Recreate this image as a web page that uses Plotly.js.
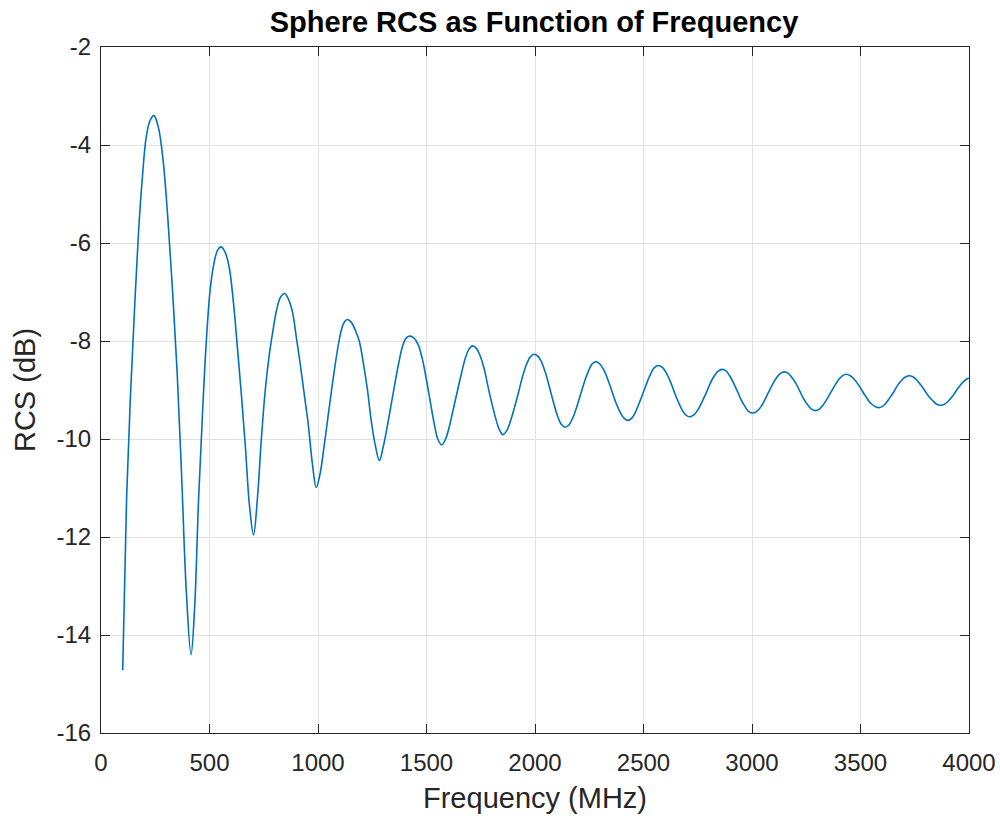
<!DOCTYPE html>
<html>
<head>
<meta charset="utf-8">
<script src="https://cdn.plot.ly/plotly-3.0.1.min.js"></script>
<style>html,body{margin:0;padding:0;background:#fff;}#chart{width:1000px;height:819px;}</style>
</head>
<body>
<div id="chart"></div>
<script>
// Frequency (MHz) and sphere RCS (dB)
const freqMHz = [
  100, 118, 136, 154, 172, 190, 208, 226, 244,
  265, 287, 308, 330, 351, 372, 393, 415,
  432, 449, 467, 484, 502, 519, 537, 554,
  573, 591, 610, 628, 647, 666, 684, 703,
  721, 739, 757, 775, 792, 810, 828, 846,
  864, 882, 901, 919, 937, 955, 974, 992,
  1010, 1028, 1046, 1064, 1082, 1099, 1117, 1135,
  1154, 1172, 1190, 1209, 1228, 1246, 1265, 1283,
  1301, 1319, 1337, 1355, 1372, 1390, 1408, 1426,
  1444, 1462, 1480, 1498, 1516, 1534, 1552, 1570,
  1588, 1605, 1623, 1641, 1659, 1677, 1694, 1712,
  1730, 1747, 1765, 1782, 1800, 1817, 1835, 1852,
  1870, 1888, 1906, 1924, 1941, 1959, 1977, 1995,
  2013, 2031, 2049, 2067, 2085, 2103, 2121, 2139,
  2157, 2175, 2192, 2210, 2228, 2246, 2263, 2281,
  2299, 2318, 2336, 2354, 2372, 2391, 2409, 2427,
  2445, 2462, 2480, 2498, 2516, 2534, 2551, 2569,
  2587, 2605, 2623, 2641, 2659, 2677, 2695, 2713,
  2732, 2750, 2769, 2788, 2806, 2825, 2843, 2862,
  2880, 2897, 2915, 2933, 2950, 2968, 2985, 3003,
  3021, 3040, 3058, 3076, 3094, 3113, 3131, 3149,
  3167, 3185, 3203, 3221, 3238, 3256, 3274, 3292,
  3310, 3327, 3345, 3363, 3381, 3399, 3416, 3434,
  3453, 3471, 3490, 3508, 3527, 3545, 3564, 3582,
  3600, 3617, 3635, 3653, 3670, 3688, 3705, 3723,
  3741, 3760, 3778, 3796, 3814, 3833, 3851, 3869,
  3887, 3904, 3922, 3939, 3957, 3975, 3992, 4000
];
const rcsDb = [
  -14.72, -11.2, -9.1, -7.4, -5.85, -4.7, -3.85, -3.5, -3.40,
  -3.65, -4.35, -5.5, -7.0, -8.65, -10.8, -13.1, -14.40,
  -13.4, -11.3, -9.55, -8.1, -7.0, -6.45, -6.15, -6.08,
  -6.2, -6.5, -7.2, -8.1, -9.1, -10.2, -11.35, -11.96,
  -11.2, -10.0, -9.0, -8.3, -7.8, -7.35, -7.1, -7.03,
  -7.15, -7.4, -7.95, -8.5, -9.1, -9.7, -10.5, -10.99,
  -10.7, -10.15, -9.55, -8.95, -8.4, -7.95, -7.65, -7.56,
  -7.62, -7.78, -8.0, -8.45, -9.0, -9.65, -10.15, -10.44,
  -10.15, -9.75, -9.3, -8.85, -8.45, -8.1, -7.93, -7.90,
  -7.95, -8.08, -8.35, -8.75, -9.2, -9.65, -10.0, -10.12,
  -10.0, -9.75, -9.4, -9.05, -8.7, -8.38, -8.18, -8.10,
  -8.15, -8.3, -8.55, -8.9, -9.25, -9.55, -9.8, -9.91,
  -9.83, -9.62, -9.35, -9.05, -8.75, -8.5, -8.33, -8.27,
  -8.31, -8.44, -8.66, -8.95, -9.25, -9.52, -9.70, -9.76,
  -9.71, -9.56, -9.35, -9.09, -8.83, -8.62, -8.47, -8.42,
  -8.47, -8.60, -8.79, -9.02, -9.25, -9.44, -9.57, -9.62,
  -9.58, -9.46, -9.27, -9.06, -8.85, -8.66, -8.54, -8.50,
  -8.54, -8.65, -8.82, -9.03, -9.23, -9.40, -9.51, -9.55,
  -9.51, -9.41, -9.25, -9.07, -8.88, -8.72, -8.62, -8.58,
  -8.61, -8.71, -8.86, -9.03, -9.20, -9.34, -9.44, -9.47,
  -9.44, -9.35, -9.21, -9.05, -8.89, -8.75, -8.66, -8.63,
  -8.66, -8.75, -8.87, -9.03, -9.18, -9.30, -9.39, -9.42,
  -9.39, -9.31, -9.19, -9.05, -8.91, -8.79, -8.71, -8.68,
  -8.71, -8.78, -8.89, -9.02, -9.15, -9.26, -9.33, -9.36,
  -9.34, -9.27, -9.16, -9.04, -8.91, -8.81, -8.74, -8.71,
  -8.73, -8.80, -8.90, -9.01, -9.13, -9.22, -9.29, -9.31,
  -9.29, -9.23, -9.14, -9.03, -8.92, -8.83, -8.77, -8.76
];
const xTickVals = [0, 500, 1000, 1500, 2000, 2500, 3000, 3500, 4000];
const yTickVals = [-16, -14, -12, -10, -8, -6, -4, -2];

const axisColor = '#262626';
const gridColor = '#e1e1e1';
const fontFamily = '"Liberation Sans", Arial, Helvetica, sans-serif';

const trace = {
  x: freqMHz,
  y: rcsDb,
  type: 'scatter',
  mode: 'lines',
  line: {color: '#0072BD', width: 1.6, shape: 'spline', smoothing: 1},
  hoverinfo: 'skip'
};

const commonAxis = {
  showline: true,
  linecolor: axisColor,
  linewidth: 1,
  mirror: 'allticks',
  ticks: 'inside',
  ticklen: 9,
  tickwidth: 1,
  tickcolor: axisColor,
  showgrid: true,
  gridcolor: gridColor,
  gridwidth: 1,
  zeroline: false,
  tickfont: {family: fontFamily, size: 24, color: axisColor}
};

const layout = {
  width: 1000,
  height: 819,
  margin: {l: 101, r: 31, t: 47, b: 86},
  paper_bgcolor: '#ffffff',
  plot_bgcolor: '#ffffff',
  showlegend: false,
  title: {
    text: '<b>Sphere RCS as Function of Frequency</b>',
    font: {family: fontFamily, size: 29, color: '#000000'},
    x: 0.534, xanchor: 'center', y: 0.973, yanchor: 'middle'
  },
  xaxis: Object.assign({}, commonAxis, {
    range: [0, 4000],
    tickmode: 'array',
    tickvals: xTickVals,
    ticktext: xTickVals.map(String),
    ticklabelstandoff: 8,
    title: {text: 'Frequency (MHz)', font: {family: fontFamily, size: 29, color: axisColor}, standoff: 12}
  }),
  yaxis: Object.assign({}, commonAxis, {
    range: [-16, -2],
    tickmode: 'array',
    tickvals: yTickVals,
    ticktext: yTickVals.map(String),
    ticklabelstandoff: 4,
    title: {text: 'RCS (dB)', font: {family: fontFamily, size: 29, color: axisColor}, standoff: 12}
  })
};

Plotly.newPlot('chart', [trace], layout, {displayModeBar: false, staticPlot: true});
</script>
</body>
</html>
